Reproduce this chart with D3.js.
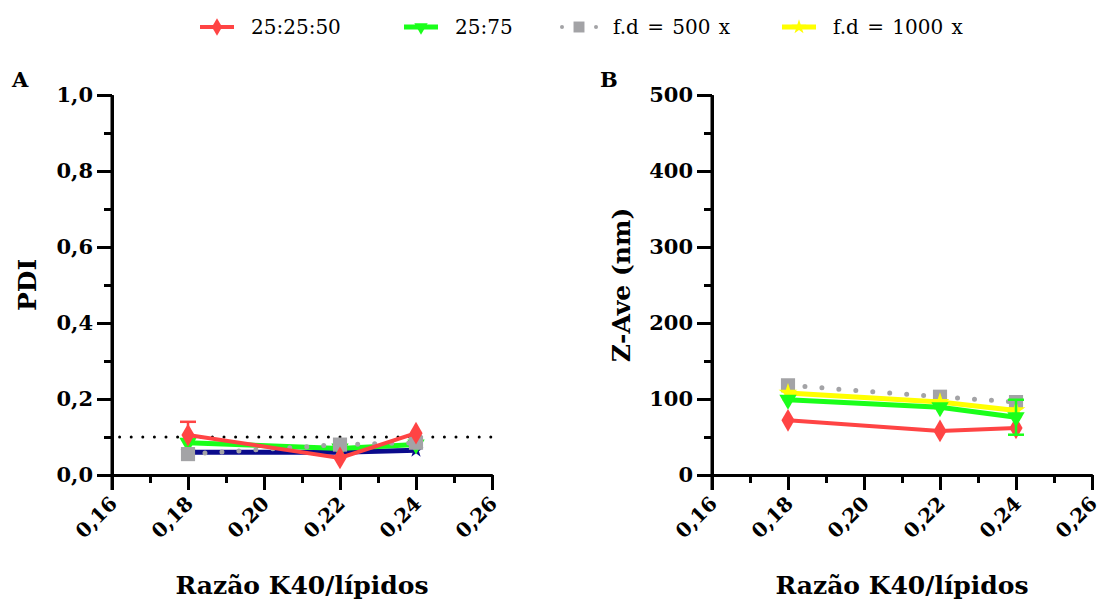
<!DOCTYPE html>
<html>
<head>
<meta charset="utf-8">
<script src="https://cdn.jsdelivr.net/npm/d3@7"></script>
<style>
  body { margin: 0; background: #fff; }
  svg { display: block; font-family: "DejaVu Serif", serif; }
</style>
</head>
<body>
<svg id="chart" width="1102" height="601"></svg>
<script>
// data
const ratios = [0.18, 0.22, 0.24];
const xTicks = [0.16, 0.18, 0.20, 0.22, 0.24, 0.26];

const pdiRed = [0.105, 0.045, 0.11];
const pdiRedErr = [0.035, 0, 0];
const pdiGreen = [0.085, 0.07, 0.08];
const pdiGray = [0.055, 0.08, 0.085];
const pdiNavy = [0.06, 0.06, 0.065];
const pdiLimit = 0.1;
const pdiTicks = [0, 0.2, 0.4, 0.6, 0.8, 1.0];

const zRed = [72, 58, 62];
const zGreen = [99, 89, 76];
const zGreenErr = [0, 0, 23];
const zGray = [118, 103, 96];
const zYellow = [108, 96, 85];
const zTicks = [0, 100, 200, 300, 400, 500];

const legendNames = ['25:25:50', '25:75', 'f.d = 500 x', 'f.d = 1000 x'];

const svg = d3.select('#chart');
const comma = (d, digits) => d.toFixed(digits).replace('.', ',');

const styles = {
  red: {color: '#ff4444', width: 4, symbol: d3.symbolDiamond, size: 150, rot: 0},
  green: {color: '#1aff1a', width: 5, symbol: d3.symbolTriangle, size: 130, rot: 180},
  gray: {color: '#a3a3a6', width: 5, symbol: d3.symbolSquare, size: 200, rot: 0, dotted: true},
  yellow: {color: '#ffff00', width: 5, symbol: d3.symbolStar, size: 110, rot: 0},
  navy: {color: '#0b0b8c', width: 5, symbol: d3.symbolStar, size: 70, rot: 0}
};

function drawSeries(g, x, y, values, st, errs, upOnly) {
  const pts = ratios.map((r, i) => [x(r), y(values[i])]);
  if (errs) {
    errs.forEach((e, i) => {
      if (!e) return;
      const lo = upOnly ? values[i] : values[i] - e;
      g.append('line')
        .attr('x1', x(ratios[i])).attr('x2', x(ratios[i]))
        .attr('y1', y(lo)).attr('y2', y(values[i] + e))
        .style('stroke', st.color).style('stroke-width', 2.5);
      const caps = upOnly ? [values[i] + e] : [values[i] + e, values[i] - e];
      caps.forEach((v) => {
        g.append('line')
          .attr('x1', x(ratios[i]) - 8).attr('x2', x(ratios[i]) + 8)
          .attr('y1', y(v)).attr('y2', y(v))
          .style('stroke', st.color).style('stroke-width', 2.5);
      });
    });
  }
  g.append('path')
    .attr('d', d3.line()(pts))
    .style('fill', 'none')
    .style('stroke', st.color)
    .style('stroke-width', st.width)
    .style('stroke-linecap', 'round')
    .style('stroke-dasharray', st.dotted ? '0,17' : null);
  g.selectAll(null)
    .data(pts)
    .enter()
    .append('path')
    .attr('d', d3.symbol().type(st.symbol).size(st.size))
    .attr('transform', (d) => `translate(${d[0]}, ${d[1]}) rotate(${st.rot})`)
    .style('fill', st.color);
}

function drawPanel(p) {
  const left = p.left;
  const g = svg.append('g');
  const x = d3.scaleLinear().domain([0.16, 0.26]).range([left, left + 380]);
  const y = d3.scaleLinear().domain(p.yDomain).range([475, 95]);
  const step = p.yTicks[1] - p.yTicks[0];
  const minorY = p.yTicks.slice(1).map((t) => t - step / 2);
  const minorX = xTicks.slice(1).map((t) => t - 0.01);

  // minor ticks
  g.append('g')
    .attr('transform', `translate(${left}, 0)`)
    .call(d3.axisLeft(y).tickValues(minorY).tickSize(8).tickSizeOuter(0).tickFormat(''));
  g.append('g')
    .attr('transform', 'translate(0, 475)')
    .call(d3.axisBottom(x).tickValues(minorX).tickSize(8).tickSizeOuter(0).tickFormat(''));

  // major ticks
  const yAxis = g.append('g')
    .attr('transform', `translate(${left}, 0)`)
    .attr('font-family', null)
    .call(d3.axisLeft(y).tickValues(p.yTicks).tickSize(15).tickSizeOuter(0)
      .tickFormat((d) => p.digits ? comma(d, p.digits) : d));
  yAxis.selectAll('text')
    .attr('x', -19)
    .style('font-family', '"DejaVu Serif", serif')
    .style('font-size', '21px')
    .style('font-weight', 'bold')
    .style('fill', '#000');

  const xAxis = g.append('g')
    .attr('transform', 'translate(0, 475)')
    .call(d3.axisBottom(x).tickValues(xTicks).tickSize(15).tickSizeOuter(0)
      .tickFormat((d) => comma(d, 2)));
  xAxis.selectAll('text')
    .attr('y', 0).attr('dy', '0.35em')
    .attr('transform', 'translate(1, 25) rotate(-45)')
    .style('text-anchor', 'end')
    .style('font-family', '"DejaVu Serif", serif')
    .style('font-size', '20px')
    .style('font-weight', 'bold')
    .style('fill', '#000');

  g.selectAll('.domain, .tick line')
    .style('stroke', '#000')
    .style('stroke-width', 3);
  // y axis runs a little below the x axis
  g.append('line')
    .attr('x1', left).attr('x2', left)
    .attr('y1', 95).attr('y2', 490)
    .style('stroke', '#000').style('stroke-width', 3);

  if (p.limit !== undefined) {
    g.append('line')
      .attr('x1', x(0.162)).attr('x2', x(0.26))
      .attr('y1', y(p.limit)).attr('y2', y(p.limit))
      .style('stroke', '#000')
      .style('stroke-width', 3)
      .style('stroke-linecap', 'round')
      .style('stroke-dasharray', '0,11.6');
  }

  p.series.forEach((s) => drawSeries(g, x, y, s.values, s.style, s.errs, s.upOnly));

  g.append('text')
    .attr('x', p.letterX).attr('y', 87)
    .text(p.letter)
    .style('font-size', '21px').style('font-weight', 'bold');
  g.append('text')
    .attr('transform', `translate(${p.titleX}, ${(95 + 475) / 2}) rotate(-90)`)
    .attr('text-anchor', 'middle')
    .text(p.yTitle)
    .style('font-size', '25px').style('font-weight', 'bold');
  g.append('text')
    .attr('x', left + 190).attr('y', 594)
    .attr('text-anchor', 'middle')
    .text('Razão K40/lípidos')
    .style('font-size', '25px').style('font-weight', 'bold');
}

drawPanel({
  left: 112, yDomain: [0, 1], yTicks: pdiTicks, digits: 1,
  letter: 'A', letterX: 12, yTitle: 'PDI', titleX: 36, limit: pdiLimit,
  series: [
    {values: pdiNavy, style: styles.navy},
    {values: pdiGreen, style: styles.green},
    {values: pdiGray, style: styles.gray},
    {values: pdiRed, style: styles.red, errs: pdiRedErr, upOnly: true}
  ]
});

drawPanel({
  left: 712, yDomain: [0, 500], yTicks: zTicks, digits: 0,
  letter: 'B', letterX: 600, yTitle: 'Z-Ave (nm)', titleX: 630,
  series: [
    {values: zGray, style: styles.gray},
    {values: zYellow, style: styles.yellow},
    {values: zRed, style: styles.red},
    {values: zGreen, style: styles.green, errs: zGreenErr}
  ]
});

// legend
const legendStyles = [styles.red, styles.green, styles.gray, styles.yellow];
const legendX = [200, 404, 562, 782];
const legend = svg.append('g').attr('transform', 'translate(0, 27)');
legendNames.forEach((name, i) => {
  const st = legendStyles[i];
  const item = legend.append('g').attr('transform', `translate(${legendX[i]}, 0)`);
  if (st.dotted) {
    [0, 34].forEach((dx) => item.append('circle').attr('cx', dx).attr('r', 2)
      .style('fill', st.color));
    item.append('path')
      .attr('d', d3.symbol().type(st.symbol).size(120))
      .attr('transform', 'translate(17, 0)')
      .style('fill', st.color);
  } else {
    item.append('line').attr('x1', 0).attr('x2', 34)
      .style('stroke', st.color).style('stroke-width', st.width);
    item.append('path')
      .attr('d', d3.symbol().type(st.symbol).size(st.size * 0.6))
      .attr('transform', `translate(17, 0) rotate(${st.rot})`)
      .style('fill', st.color);
  }
  item.append('text')
    .attr('x', 51).attr('dy', '0.35em')
    .text(name)
    .style('font-size', '20px')
    .style('word-spacing', '2px');
});
</script>
</body>
</html>
